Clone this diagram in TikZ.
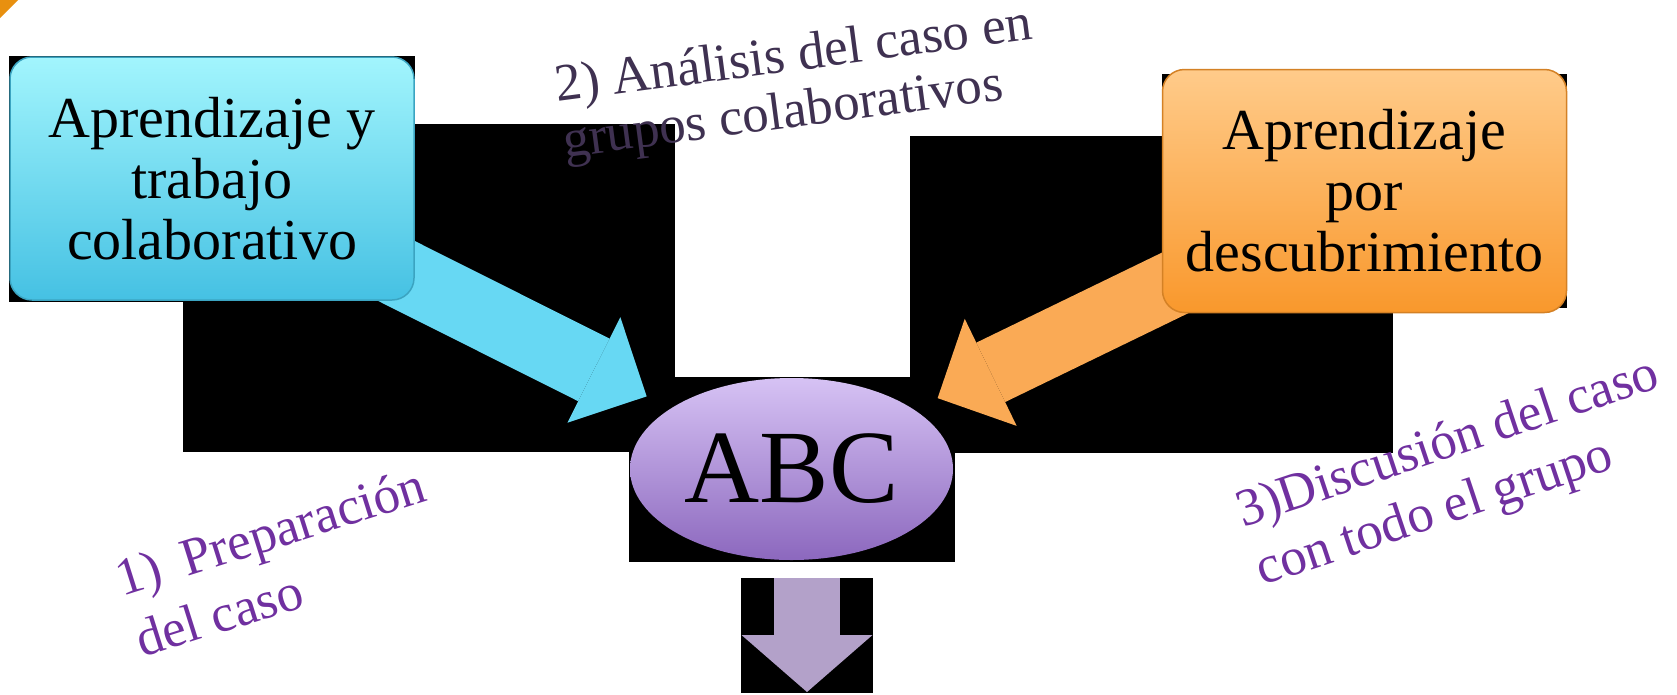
\documentclass[tikz,border=0pt]{standalone}
\usepackage{fontspec}
\setmainfont{Liberation Serif}
\usepackage{tikz}
\usetikzlibrary{arrows.meta,calc,shapes.geometric}

\definecolor{cyantop}{HTML}{A2F5FD}
\definecolor{cyanbot}{HTML}{45C1E3}
\definecolor{cyanarrow}{HTML}{67D8F3}
\definecolor{orangetop}{HTML}{FFCB8A}
\definecolor{orangebot}{HTML}{F9982C}
\definecolor{orangearrow}{HTML}{FAAA55}
\definecolor{abctop}{HTML}{D6C2F4}
\definecolor{abcbot}{HTML}{8C68BE}
\definecolor{downarrow}{HTML}{B3A1C9}
\definecolor{phasepurple}{HTML}{7030A0}
\definecolor{phasedark}{HTML}{3F3151}
\definecolor{cornerorange}{HTML}{E8900F}

\pgfdeclarelayer{backrect}
\pgfdeclarelayer{arrowlayer}
\pgfsetlayers{backrect,arrowlayer,main}

\begin{document}
\begin{tikzpicture}[x=1pt,y=-1pt,
    boxtext/.style={font=\fontsize{58}{61}\selectfont, align=center, inner sep=0pt,
      minimum width=404pt, minimum height=243pt, rounded corners=22pt},
    phase/.style={anchor=base west, align=left, inner sep=0pt, text=phasepurple,
      font=\fontsize{53}{#1}\selectfont}]
  \useasboundingbox (0,0) rectangle (1677,694);
  % BOXES AND ELLIPSE
  \node[boxtext, top color=cyantop, bottom color=cyanbot, draw=cyanbot!85!black, line width=1.5pt]
    (colab) at (212,178.5) {Aprendizaje y\\trabajo\\colaborativo};
  \node[boxtext, top color=orangetop, bottom color=orangebot, draw=orangebot!85!black, line width=1.5pt]
    (descub) at (1364.5,191) {Aprendizaje\\por\\descubrimiento};
  \node[ellipse, minimum width=323pt, minimum height=182pt, inner sep=0pt,
    top color=abctop, bottom color=abcbot, font=\fontsize{104}{104}\selectfont]
    (abc) at (791.5,469) {ABC};
  % Phase labels (anchored at the start of their last line)
  \node[phase=64, rotate=17.5] (paso1) at (142,658) {1)\hspace{0.45em}Preparación\\del caso};
  \node[phase=56, rotate=7.5, text=phasedark] (paso2) at (565,157.5) {2) Análisis del caso en\\grupos colaborativos};
  \node[phase=62, rotate=18.5] (paso3) at (1262.5,586) {3)Discusión del caso\\con todo el grupo};
  % Black patches behind the shapes
  \begin{pgfonlayer}{backrect}
    \fill[white] (0,0) rectangle (1677,694);
    \fill[cornerorange] (0,0) -- (18,0) -- (0,18) -- cycle;
    \fill[black] (9,56) rectangle (415,302);
    \fill[black] (183,124) rectangle (675,452);
    \fill[black] (629,377) rectangle (955,562);
    \fill[black] (741,578) rectangle (873,693);
    \fill[black] (910,136) rectangle (1393,453);
    \fill[black] (1162,74) rectangle (1567,308);
  \end{pgfonlayer}
  % Arrows into ABC and out of it
  \coordinate (dtop) at (807,578);
  \coordinate (dtip) at (807,692);
  \begin{pgfonlayer}{arrowlayer}
    \draw[cyanarrow, line width=70pt, -{Triangle[width=118pt,length=59pt,line width=0pt]}]
      (colab.center) -- ($(colab.center)!0.75!(abc.center)$);
    \draw[orangearrow, line width=66pt, -{Triangle[width=119pt,length=59pt,line width=0pt]}]
      (descub.center) -- ($(descub.center)!0.745!(abc.center)$);
    \draw[downarrow, line width=66pt, -{Triangle[width=131pt,length=57pt,line width=0pt]}]
      (dtop) -- (dtip);
  \end{pgfonlayer}
\end{tikzpicture}
\end{document}
